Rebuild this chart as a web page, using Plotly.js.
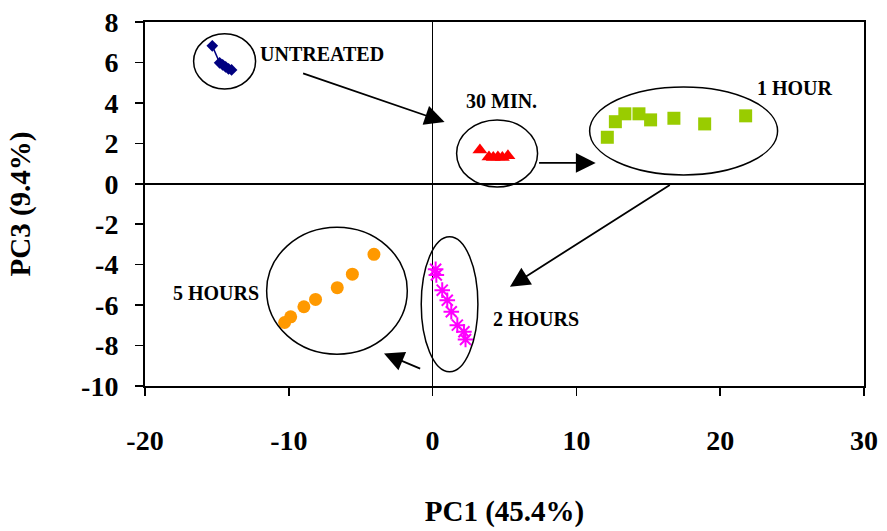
<!DOCTYPE html>
<html>
<head>
<meta charset="utf-8">
<script src="https://cdn.plot.ly/plotly-3.0.1.min.js"></script>
<style>html,body{margin:0;padding:0;background:#fff;}#chart{width:887px;height:531px;}</style>
</head>
<body>
<div id="chart"></div>
<script>
// ---- data ----
const untreatedX = [-15.32, -14.81, -14.6, -14.39, -14.19, -13.98];
const untreatedY = [6.82, 5.98, 5.88, 5.78, 5.68, 5.63];
const min30X = [3.29, 3.92, 4.22, 4.54, 4.85, 5.24];
const min30Y = [1.67, 1.33, 1.30, 1.33, 1.30, 1.38];
const hour1X = [12.15, 12.71, 13.37, 14.35, 15.16, 16.78, 18.92, 21.77];
const hour1Y = [2.30, 3.07, 3.46, 3.46, 3.16, 3.24, 2.96, 3.36];
const hour2X = [0.21, 0.26, 0.67, 1.02, 1.30, 1.72, 2.18, 2.29];
const hour2Y = [-4.23, -4.51, -5.26, -5.76, -6.33, -6.99, -7.32, -7.70];
const hour5X = [-4.08, -5.58, -6.63, -8.14, -8.95, -9.87, -10.29];
const hour5Y = [-3.49, -4.47, -5.14, -5.72, -6.08, -6.58, -6.86];
const xTicks = [-20, -10, 0, 10, 20, 30];
const yTicks = [-10, -8, -6, -4, -2, 0, 2, 4, 6, 8];
const groupLabels = ["UNTREATED", "30 MIN.", "1 HOUR", "2 HOURS", "5 HOURS"];
const xTitle = "PC1 (45.4%)";
const yTitle = "PC3 (9.4%)";

const FONT = "Liberation Serif, Times New Roman, serif";

const traces = [
  {x: untreatedX, y: untreatedY, mode: "lines+markers", name: groupLabels[0],
   line: {color: "#000080", width: 1.5},
   marker: {symbol: "diamond", size: 9, color: "#000080"}},
  {x: min30X, y: min30Y, mode: "markers", name: groupLabels[1],
   marker: {symbol: "triangle-up", size: 13, color: "#FF0000"}},
  {x: hour1X, y: hour1Y, mode: "markers", name: groupLabels[2],
   marker: {symbol: "square", size: 13, color: "#99CC00"}},
  {x: hour2X, y: hour2Y, mode: "markers", name: groupLabels[3],
   marker: {symbol: "asterisk-open", size: 13, color: "#FF00FF", line: {color: "#FF00FF", width: 2}}},
  {x: hour5X, y: hour5Y, mode: "markers", name: groupLabels[4],
   marker: {symbol: "circle", size: 13, color: "#FF9900"}}
];

function ell(x0, x1, y0, y1) {
  return {type: "circle", xref: "x", yref: "y", x0: x0, x1: x1, y0: y0, y1: y1,
          line: {color: "#000", width: 1.5}, fillcolor: "rgba(0,0,0,0)"};
}
const shapes = [
  ell(-16.62, -12.31, 4.69, 7.42),
  ell(1.67, 7.3, -0.16, 3.16),
  ell(10.92, 23.99, 0.44, 4.79),
  ell(-0.79, 3.15, -9.3, -2.62),
  ell(-11.54, -1.76, -8.43, -2.15)
];

function lbl(text, x, y) {
  return {text: text, x: x, y: y, xref: "x", yref: "y", showarrow: false,
          font: {family: FONT, size: 20, color: "#000", weight: "bold"}};
}
function arr(ax, ay, x, y) {
  return {text: "", x: x, y: y, ax: ax, ay: ay, xref: "x", yref: "y", axref: "x", ayref: "y",
          showarrow: true, arrowhead: 2, arrowsize: 2.2, arrowwidth: 1.8, arrowcolor: "#000", standoff: 0};
}
const annotations = [
  lbl(groupLabels[0], -7.72, 6.44),
  lbl(groupLabels[1], 4.8, 4.07),
  lbl(groupLabels[2], 25.17, 4.74),
  lbl(groupLabels[3], 7.16, -6.69),
  lbl(groupLabels[4], -15.06, -5.41),
  arr(-9.11, 5.49, 0.83, 3.06),
  arr(7.3, 1.03, 11.34, 1.03),
  arr(16.6, -0.01, 5.38, -5.09),
  arr(-0.76, -9.17, -3.38, -8.39)
];

const layout = {
  width: 887, height: 531,
  margin: {l: 145, r: 23, t: 22, b: 145},
  paper_bgcolor: "#fff", plot_bgcolor: "#fff",
  showlegend: false,
  font: {family: FONT, color: "#000", weight: "bold"},
  xaxis: {
    range: [-20, 30], tickvals: xTicks, ticktext: xTicks.map(String),
    showgrid: false, zeroline: true, zerolinecolor: "#000", zerolinewidth: 1.5,
    showline: true, linecolor: "#000", linewidth: 2, mirror: true,
    ticks: "outside", ticklen: 8, tickwidth: 1.5, tickcolor: "#000",
    tickfont: {family: FONT, size: 28, weight: "bold"},
    ticklabelstandoff: 20,
    title: {text: xTitle, font: {family: FONT, size: 29, weight: "bold"}, standoff: 46},
    automargin: false
  },
  yaxis: {
    range: [-10, 8], tickvals: yTicks, ticktext: yTicks.map(String),
    showgrid: false, zeroline: true, zerolinecolor: "#000", zerolinewidth: 1.5,
    showline: true, linecolor: "#000", linewidth: 2, mirror: true,
    ticks: "outside", ticklen: 8, tickwidth: 1.5, tickcolor: "#000",
    tickfont: {family: FONT, size: 28, weight: "bold"},
    ticklabelstandoff: 11,
    title: {text: yTitle, font: {family: FONT, size: 29, weight: "bold"}, standoff: 42},
    automargin: false
  },
  shapes: shapes,
  annotations: annotations
};

Plotly.newPlot("chart", traces, layout, {displayModeBar: false, staticPlot: true});
</script>
</body>
</html>
